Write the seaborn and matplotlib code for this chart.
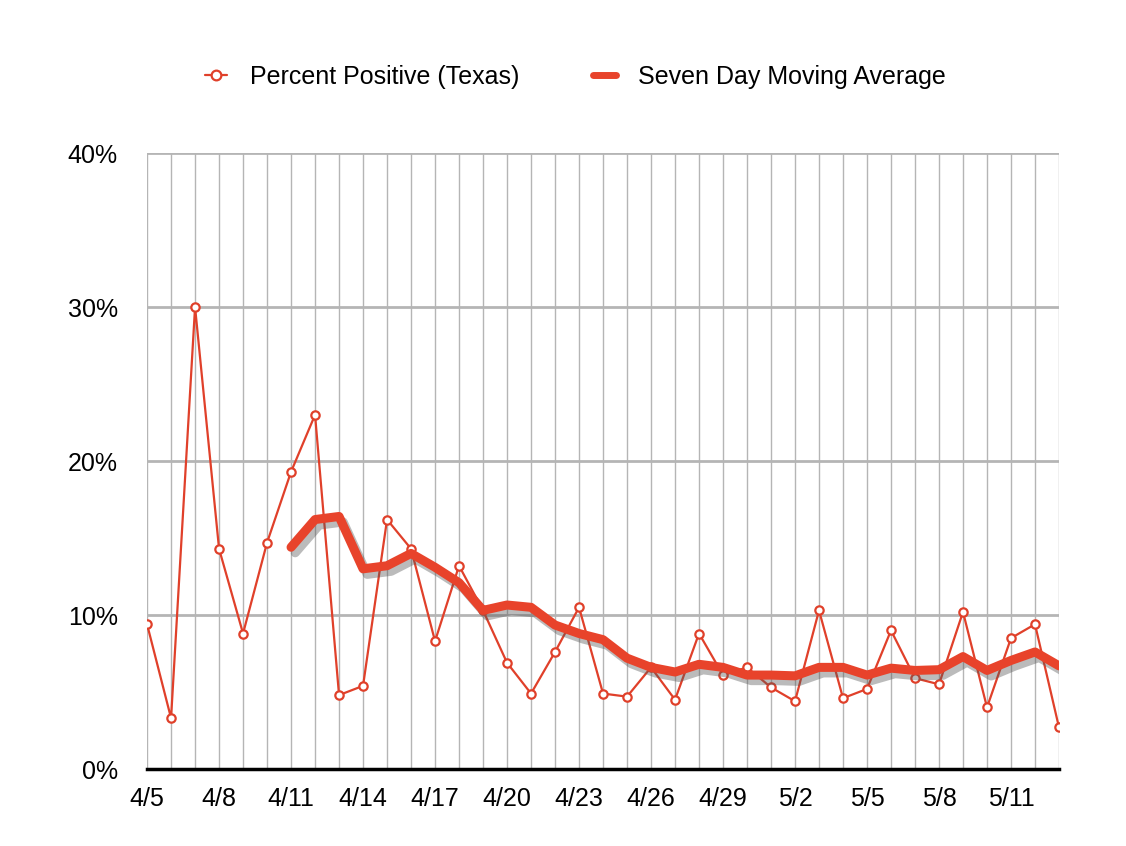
import matplotlib
matplotlib.use("Agg")
import matplotlib.pyplot as plt
import matplotlib.patheffects as pe
from matplotlib.lines import Line2D
import seaborn as sns
import pandas as pd
import numpy as np

# Data (percent)
dates = (["4/%d" % d for d in range(5, 31)] +
         ["5/%d" % d for d in range(1, 14)])
pct_positive = [9.4, 3.3, 30.0, 14.3, 8.8, 14.7, 19.3, 23.0, 4.8, 5.4,
                16.2, 14.3, 8.3, 13.2, 10.3, 6.9, 4.9, 7.6, 10.5, 4.9,
                4.7, 6.6, 4.5, 8.8, 6.1, 6.6, 5.3, 4.4, 10.3, 4.6,
                5.2, 9.0, 5.9, 5.5, 10.2, 4.0, 8.5, 9.4, 2.7]
moving_avg = [None] * 6 + [14.4, 16.2, 16.4, 13.0, 13.2, 14.0, 13.1, 12.1,
                           10.3, 10.65, 10.5, 9.35, 8.8, 8.4, 7.2, 6.6, 6.3,
                           6.8, 6.6, 6.1, 6.1, 6.05, 6.6, 6.6, 6.1, 6.55, 6.4,
                           6.45, 7.3, 6.4, 7.05, 7.6, 6.7]

df = pd.DataFrame({
    "day": np.arange(len(dates)),
    "pct": pct_positive,
    "avg": pd.array(moving_avg, dtype="Float64").astype(float),
})

red = "#e0402a"
red_avg = "#e8432b"

sns.set_style("white")
plt.rcParams["font.family"] = ["Liberation Sans", "DejaVu Sans"]

fig = plt.figure(figsize=(11.26, 8.46), dpi=100)
ax = fig.add_axes([0.1306, 0.0910, 0.8099, 0.7281])

sns.lineplot(data=df, x="day", y="pct", ax=ax, color=red, linewidth=1.6,
             marker="o", markersize=6, markerfacecolor="white",
             markeredgecolor=red, markeredgewidth=1.6, legend=False,
             zorder=3)
sns.lineplot(data=df.dropna(), x="day", y="avg", ax=ax, color=red_avg,
             linewidth=6.5, legend=False, zorder=4,
             path_effects=[pe.SimpleLineShadow(offset=(3, -4),
                                               shadow_color="#555555",
                                               alpha=0.4),
                           pe.Normal()])

ax.set_xlim(0, len(dates) - 1)
ax.set_ylim(0, 40)
ax.set_xticks(df["day"])
ax.set_xticklabels([d if i % 3 == 0 else "" for i, d in enumerate(dates)])
ax.set_yticks([0, 10, 20, 30, 40])
ax.set_yticklabels(["0%", "10%", "20%", "30%", "40%"])
ax.tick_params(axis="both", length=0, labelsize=18, colors="black")
ax.tick_params(axis="x", pad=13)
ax.tick_params(axis="y", pad=21)
ax.set_xlabel("")
ax.set_ylabel("")

ax.grid(False)
for x in df["day"]:
    ax.axvline(x, color="#b5b5b5", linewidth=1.0, zorder=1)
for y in [10, 20, 30, 40]:
    ax.axhline(y, color="#b5b5b5", linewidth=2.0, zorder=1)

for s in ["top", "right", "left"]:
    ax.spines[s].set_visible(False)
ax.spines["bottom"].set_color("black")
ax.spines["bottom"].set_linewidth(2.5)
ax.spines["bottom"].set_zorder(5)

handles = [
    Line2D([], [], color=red, linewidth=1.6, marker="o", markersize=7,
           markerfacecolor="white", markeredgecolor=red, markeredgewidth=1.6),
    Line2D([], [], color=red_avg, linewidth=5),
]
labels = ["Percent Positive (Texas)", "Seven Day Moving Average"]
fig.legend(handles, labels, loc="center", bbox_to_anchor=(0.511, 0.909),
           ncol=2, frameon=False, fontsize=18, handlelength=0.9,
           columnspacing=2.95, handletextpad=0.9, labelcolor="black")

fig.savefig("out.png", dpi=100)
